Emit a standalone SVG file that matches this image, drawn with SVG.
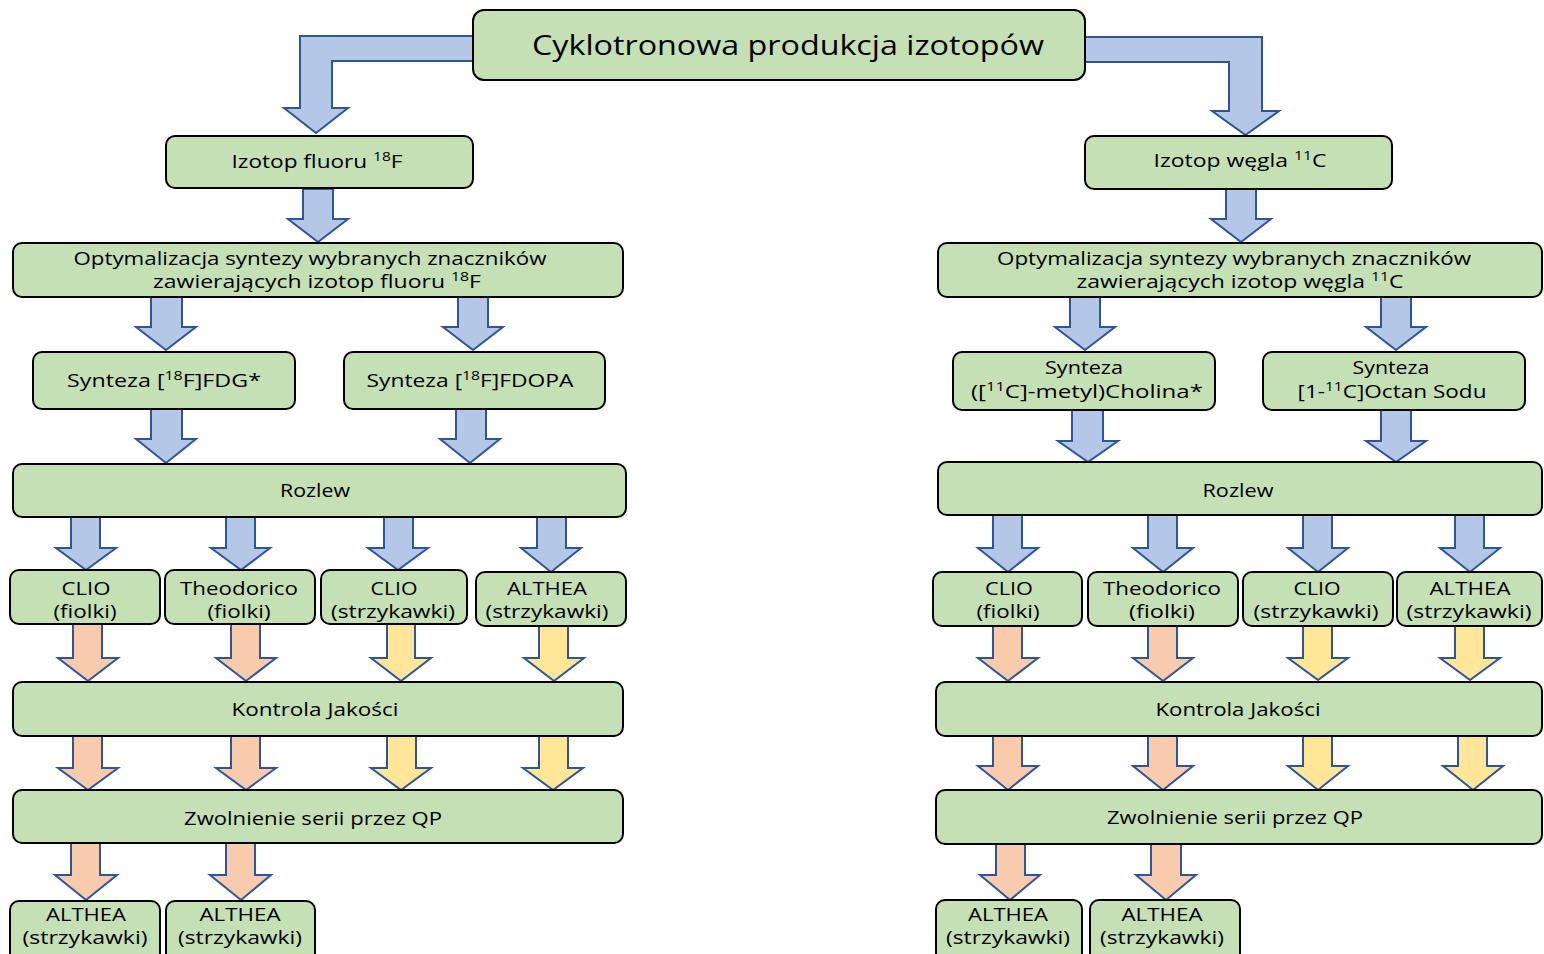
<svg xmlns="http://www.w3.org/2000/svg" width="1544" height="954" viewBox="0 0 1544 954">
<style>
.box{fill:#C5E0B4;stroke:#000;stroke-width:2}
.t{font-family:"Open Sans","Liberation Sans",sans-serif;font-size:17.5px;fill:#000;text-anchor:middle}
.title{font-size:28px}
.sup{font-size:12px}
.bl{fill:#B4C7E7;stroke:#2F5597;stroke-width:2}
.or{fill:#F8CBAD;stroke:#2F5597;stroke-width:2}
.ye{fill:#FFE699;stroke:#2F5597;stroke-width:2}
</style>
<rect width="1544" height="954" fill="#fff"/>
<g id="connectors">
<polygon class="bl" points="473,36 300,36 300,108 284,108 316,133 348,108 332,108 332,61 473,61"/>
<polygon class="bl" points="1085,37 1262,37 1262,111 1279,111 1245.5,135 1212,111 1229,111 1229,62 1085,62"/>
<polygon class="bl" points="303,189 333,189 333,219 348,219 318,242 288,219 303,219"/>
<polygon class="bl" points="1226,189 1256,189 1256,219 1271,219 1241,242 1211,219 1226,219"/>
<polygon class="bl" points="151,297 182,297 182,327 196,327 166,350 136,327 151,327"/>
<polygon class="bl" points="458,297 488,297 488,327 503,327 473,350 443,327 458,327"/>
<polygon class="bl" points="151,409 182,409 182,439 196,439 166,463 136,439 151,439"/>
<polygon class="bl" points="456,409 486,409 486,439 500,439 470,463 440,439 456,439"/>
<polygon class="bl" points="71,517 100,517 100,548 116,548 86,570 56,548 71,548"/>
<polygon class="bl" points="226,517 255,517 255,548 270,548 241,570 211,548 226,548"/>
<polygon class="bl" points="384,517 413,517 413,548 428,548 398,570 368,548 384,548"/>
<polygon class="bl" points="537,517 566,517 566,548 581,548 551,572 521,548 537,548"/>
<polygon class="or" points="73,624 102,624 102,658 118,658 88,681 58,658 73,658"/>
<polygon class="or" points="231,624 260,624 260,658 276,658 246,681 216,658 231,658"/>
<polygon class="ye" points="387,624 415,624 415,658 431,658 401,681 371,658 387,658"/>
<polygon class="ye" points="539,626 568,626 568,658 584,658 554,681 524,658 539,658"/>
<polygon class="or" points="73,736 102,736 102,768 118,768 88,790 58,768 73,768"/>
<polygon class="or" points="231,736 260,736 260,768 276,768 246,790 216,768 231,768"/>
<polygon class="ye" points="387,736 416,736 416,768 431,768 401,790 371,768 387,768"/>
<polygon class="ye" points="539,736 568,736 568,768 583,768 553,790 523,768 539,768"/>
<polygon class="or" points="71,843 100,843 100,875 117,875 86,900 55,875 71,875"/>
<polygon class="or" points="226,843 255,843 255,875 271,875 241,900 210,875 226,875"/>
<polygon class="bl" points="1070,297 1100,297 1100,327 1115,327 1085,350 1055,327 1070,327"/>
<polygon class="bl" points="1381,297 1411,297 1411,327 1426,327 1396,350 1366,327 1381,327"/>
<polygon class="bl" points="1072,410 1103,410 1103,441 1118,441 1088,462 1058,441 1072,441"/>
<polygon class="bl" points="1381,410 1411,410 1411,441 1426,441 1396,462 1366,441 1381,441"/>
<polygon class="bl" points="993,515 1022,515 1022,548 1038,548 1008,572 978,548 993,548"/>
<polygon class="bl" points="1148,515 1177,515 1177,548 1193,548 1163,572 1133,548 1148,548"/>
<polygon class="bl" points="1303,515 1332,515 1332,548 1348,548 1318,572 1288,548 1303,548"/>
<polygon class="bl" points="1455,515 1484,515 1484,548 1500,548 1470,572 1440,548 1455,548"/>
<polygon class="or" points="993,626 1022,626 1022,658 1038,658 1008,681 978,658 993,658"/>
<polygon class="or" points="1148,626 1177,626 1177,658 1193,658 1163,681 1133,658 1148,658"/>
<polygon class="ye" points="1303,626 1332,626 1332,658 1348,658 1318,680 1288,658 1303,658"/>
<polygon class="ye" points="1455,626 1484,626 1484,658 1500,658 1470,680 1440,658 1455,658"/>
<polygon class="or" points="993,736 1022,736 1022,766 1038,766 1008,790 978,766 993,766"/>
<polygon class="or" points="1148,736 1177,736 1177,766 1193,766 1163,790 1133,766 1148,766"/>
<polygon class="ye" points="1303,736 1332,736 1332,766 1348,766 1318,790 1288,766 1303,766"/>
<polygon class="ye" points="1458,736 1487,736 1487,766 1503,766 1473,790 1443,766 1458,766"/>
<polygon class="or" points="996,844 1025,844 1025,875 1040,875 1010,900 980,875 996,875"/>
<polygon class="or" points="1151,844 1181,844 1181,875 1196,875 1166,900 1136,875 1151,875"/>
</g>
<g id="title"><rect class="box" x="473" y="10" width="612" height="70" rx="11"/><text class="t title" x="788" y="55" textLength="512" lengthAdjust="spacingAndGlyphs">Cyklotronowa produkcja izotopów</text></g>
<g id="fluor"><rect class="box" x="166" y="136" width="307" height="52" rx="9"/><text class="t" x="317" y="168" textLength="171" lengthAdjust="spacingAndGlyphs">Izotop fluoru <tspan class="sup" dy="-7">18</tspan><tspan dy="7">F</tspan></text></g>
<g id="wegiel"><rect class="box" x="1085" y="136" width="307" height="53" rx="9"/><text class="t" x="1240" y="167" textLength="173" lengthAdjust="spacingAndGlyphs">Izotop węgla <tspan class="sup" dy="-7">11</tspan><tspan dy="7">C</tspan></text></g>
<g id="optF"><rect class="box" x="13" y="243" width="610" height="54" rx="9"/><text class="t" x="310" y="265" textLength="473" lengthAdjust="spacingAndGlyphs">Optymalizacja syntezy wybranych znaczników</text><text class="t" x="317" y="288" textLength="328" lengthAdjust="spacingAndGlyphs">zawierających izotop fluoru <tspan class="sup" dy="-7">18</tspan><tspan dy="7">F</tspan></text></g>
<g id="optC"><rect class="box" x="938" y="243" width="604" height="54" rx="9"/><text class="t" x="1234" y="265" textLength="474" lengthAdjust="spacingAndGlyphs">Optymalizacja syntezy wybranych znaczników</text><text class="t" x="1240" y="288" textLength="327" lengthAdjust="spacingAndGlyphs">zawierających izotop węgla <tspan class="sup" dy="-7">11</tspan><tspan dy="7">C</tspan></text></g>
<g id="fdg"><rect class="box" x="33" y="352" width="262" height="57" rx="9"/><text class="t" x="164" y="387" textLength="194" lengthAdjust="spacingAndGlyphs">Synteza [<tspan class="sup" dy="-7">18</tspan><tspan dy="7">F]FDG*</tspan></text></g>
<g id="fdopa"><rect class="box" x="344" y="352" width="261" height="57" rx="9"/><text class="t" x="470" y="387" textLength="207" lengthAdjust="spacingAndGlyphs">Synteza [<tspan class="sup" dy="-7">18</tspan><tspan dy="7">F]FDOPA</tspan></text></g>
<g id="cholina"><rect class="box" x="953" y="352" width="262" height="58" rx="9"/><text class="t" x="1084" y="374" textLength="78" lengthAdjust="spacingAndGlyphs">Synteza</text><text class="t" x="1087" y="398" textLength="232" lengthAdjust="spacingAndGlyphs">([<tspan class="sup" dy="-7">11</tspan><tspan dy="7">C]-metyl)Cholina*</tspan></text></g>
<g id="octan"><rect class="box" x="1263" y="352" width="262" height="58" rx="9"/><text class="t" x="1391" y="374" textLength="77" lengthAdjust="spacingAndGlyphs">Synteza</text><text class="t" x="1392" y="398" textLength="189" lengthAdjust="spacingAndGlyphs">[1-<tspan class="sup" dy="-7">11</tspan><tspan dy="7">C]Octan Sodu</tspan></text></g>
<g id="rozlewF"><rect class="box" x="13" y="464" width="613" height="53" rx="9"/><text class="t" x="315" y="497" textLength="70" lengthAdjust="spacingAndGlyphs">Rozlew</text></g>
<g id="rozlewC"><rect class="box" x="938" y="462" width="604" height="53" rx="9"/><text class="t" x="1238" y="497" textLength="71" lengthAdjust="spacingAndGlyphs">Rozlew</text></g>
<g id="f1"><rect class="box" x="10" y="570" width="150" height="54" rx="9"/><text class="t" x="86" y="595" textLength="49" lengthAdjust="spacingAndGlyphs">CLIO</text><text class="t" x="85" y="618" textLength="63" lengthAdjust="spacingAndGlyphs">(fiolki)</text></g>
<g id="f2"><rect class="box" x="165" y="570" width="150" height="54" rx="9"/><text class="t" x="239" y="595" textLength="118" lengthAdjust="spacingAndGlyphs">Theodorico</text><text class="t" x="239" y="618" textLength="63" lengthAdjust="spacingAndGlyphs">(fiolki)</text></g>
<g id="f3"><rect class="box" x="321" y="570" width="146" height="54" rx="9"/><text class="t" x="394" y="595" textLength="47" lengthAdjust="spacingAndGlyphs">CLIO</text><text class="t" x="393" y="618" textLength="124" lengthAdjust="spacingAndGlyphs">(strzykawki)</text></g>
<g id="f4"><rect class="box" x="476" y="572" width="150" height="54" rx="9"/><text class="t" x="547" y="595" textLength="80" lengthAdjust="spacingAndGlyphs">ALTHEA</text><text class="t" x="547" y="618" textLength="123" lengthAdjust="spacingAndGlyphs">(strzykawki)</text></g>
<g id="c1"><rect class="box" x="933" y="572" width="149" height="54" rx="9"/><text class="t" x="1009" y="595" textLength="48" lengthAdjust="spacingAndGlyphs">CLIO</text><text class="t" x="1008" y="618" textLength="63" lengthAdjust="spacingAndGlyphs">(fiolki)</text></g>
<g id="c2"><rect class="box" x="1088" y="572" width="150" height="54" rx="9"/><text class="t" x="1162" y="595" textLength="118" lengthAdjust="spacingAndGlyphs">Theodorico</text><text class="t" x="1162" y="618" textLength="66" lengthAdjust="spacingAndGlyphs">(fiolki)</text></g>
<g id="c3"><rect class="box" x="1243" y="572" width="150" height="54" rx="9"/><text class="t" x="1317" y="595" textLength="47" lengthAdjust="spacingAndGlyphs">CLIO</text><text class="t" x="1316" y="618" textLength="125" lengthAdjust="spacingAndGlyphs">(strzykawki)</text></g>
<g id="c4"><rect class="box" x="1397" y="572" width="145" height="54" rx="9"/><text class="t" x="1470" y="595" textLength="81" lengthAdjust="spacingAndGlyphs">ALTHEA</text><text class="t" x="1469" y="618" textLength="125" lengthAdjust="spacingAndGlyphs">(strzykawki)</text></g>
<g id="kontrolaF"><rect class="box" x="13" y="682" width="610" height="54" rx="9"/><text class="t" x="315" y="716" textLength="167" lengthAdjust="spacingAndGlyphs">Kontrola Jakości</text></g>
<g id="kontrolaC"><rect class="box" x="936" y="682" width="606" height="54" rx="9"/><text class="t" x="1238" y="716" textLength="165" lengthAdjust="spacingAndGlyphs">Kontrola Jakości</text></g>
<g id="zwolnienieF"><rect class="box" x="13" y="790" width="610" height="53" rx="9"/><text class="t" x="313" y="825" textLength="258" lengthAdjust="spacingAndGlyphs">Zwolnienie serii przez QP</text></g>
<g id="zwolnienieC"><rect class="box" x="936" y="790" width="606" height="54" rx="9"/><text class="t" x="1235" y="824" textLength="256" lengthAdjust="spacingAndGlyphs">Zwolnienie serii przez QP</text></g>
<g id="fa1"><rect class="box" x="10" y="901" width="150" height="62" rx="9"/><text class="t" x="86" y="921" textLength="80" lengthAdjust="spacingAndGlyphs">ALTHEA</text><text class="t" x="85" y="944" textLength="125" lengthAdjust="spacingAndGlyphs">(strzykawki)</text></g>
<g id="fa2"><rect class="box" x="166" y="901" width="149" height="62" rx="9"/><text class="t" x="240" y="921" textLength="81" lengthAdjust="spacingAndGlyphs">ALTHEA</text><text class="t" x="240" y="944" textLength="124" lengthAdjust="spacingAndGlyphs">(strzykawki)</text></g>
<g id="ca1"><rect class="box" x="936" y="900" width="146" height="62" rx="9"/><text class="t" x="1008" y="921" textLength="80" lengthAdjust="spacingAndGlyphs">ALTHEA</text><text class="t" x="1008" y="944" textLength="124" lengthAdjust="spacingAndGlyphs">(strzykawki)</text></g>
<g id="ca2"><rect class="box" x="1090" y="900" width="150" height="62" rx="9"/><text class="t" x="1162" y="921" textLength="81" lengthAdjust="spacingAndGlyphs">ALTHEA</text><text class="t" x="1162" y="944" textLength="124" lengthAdjust="spacingAndGlyphs">(strzykawki)</text></g>
</svg>
